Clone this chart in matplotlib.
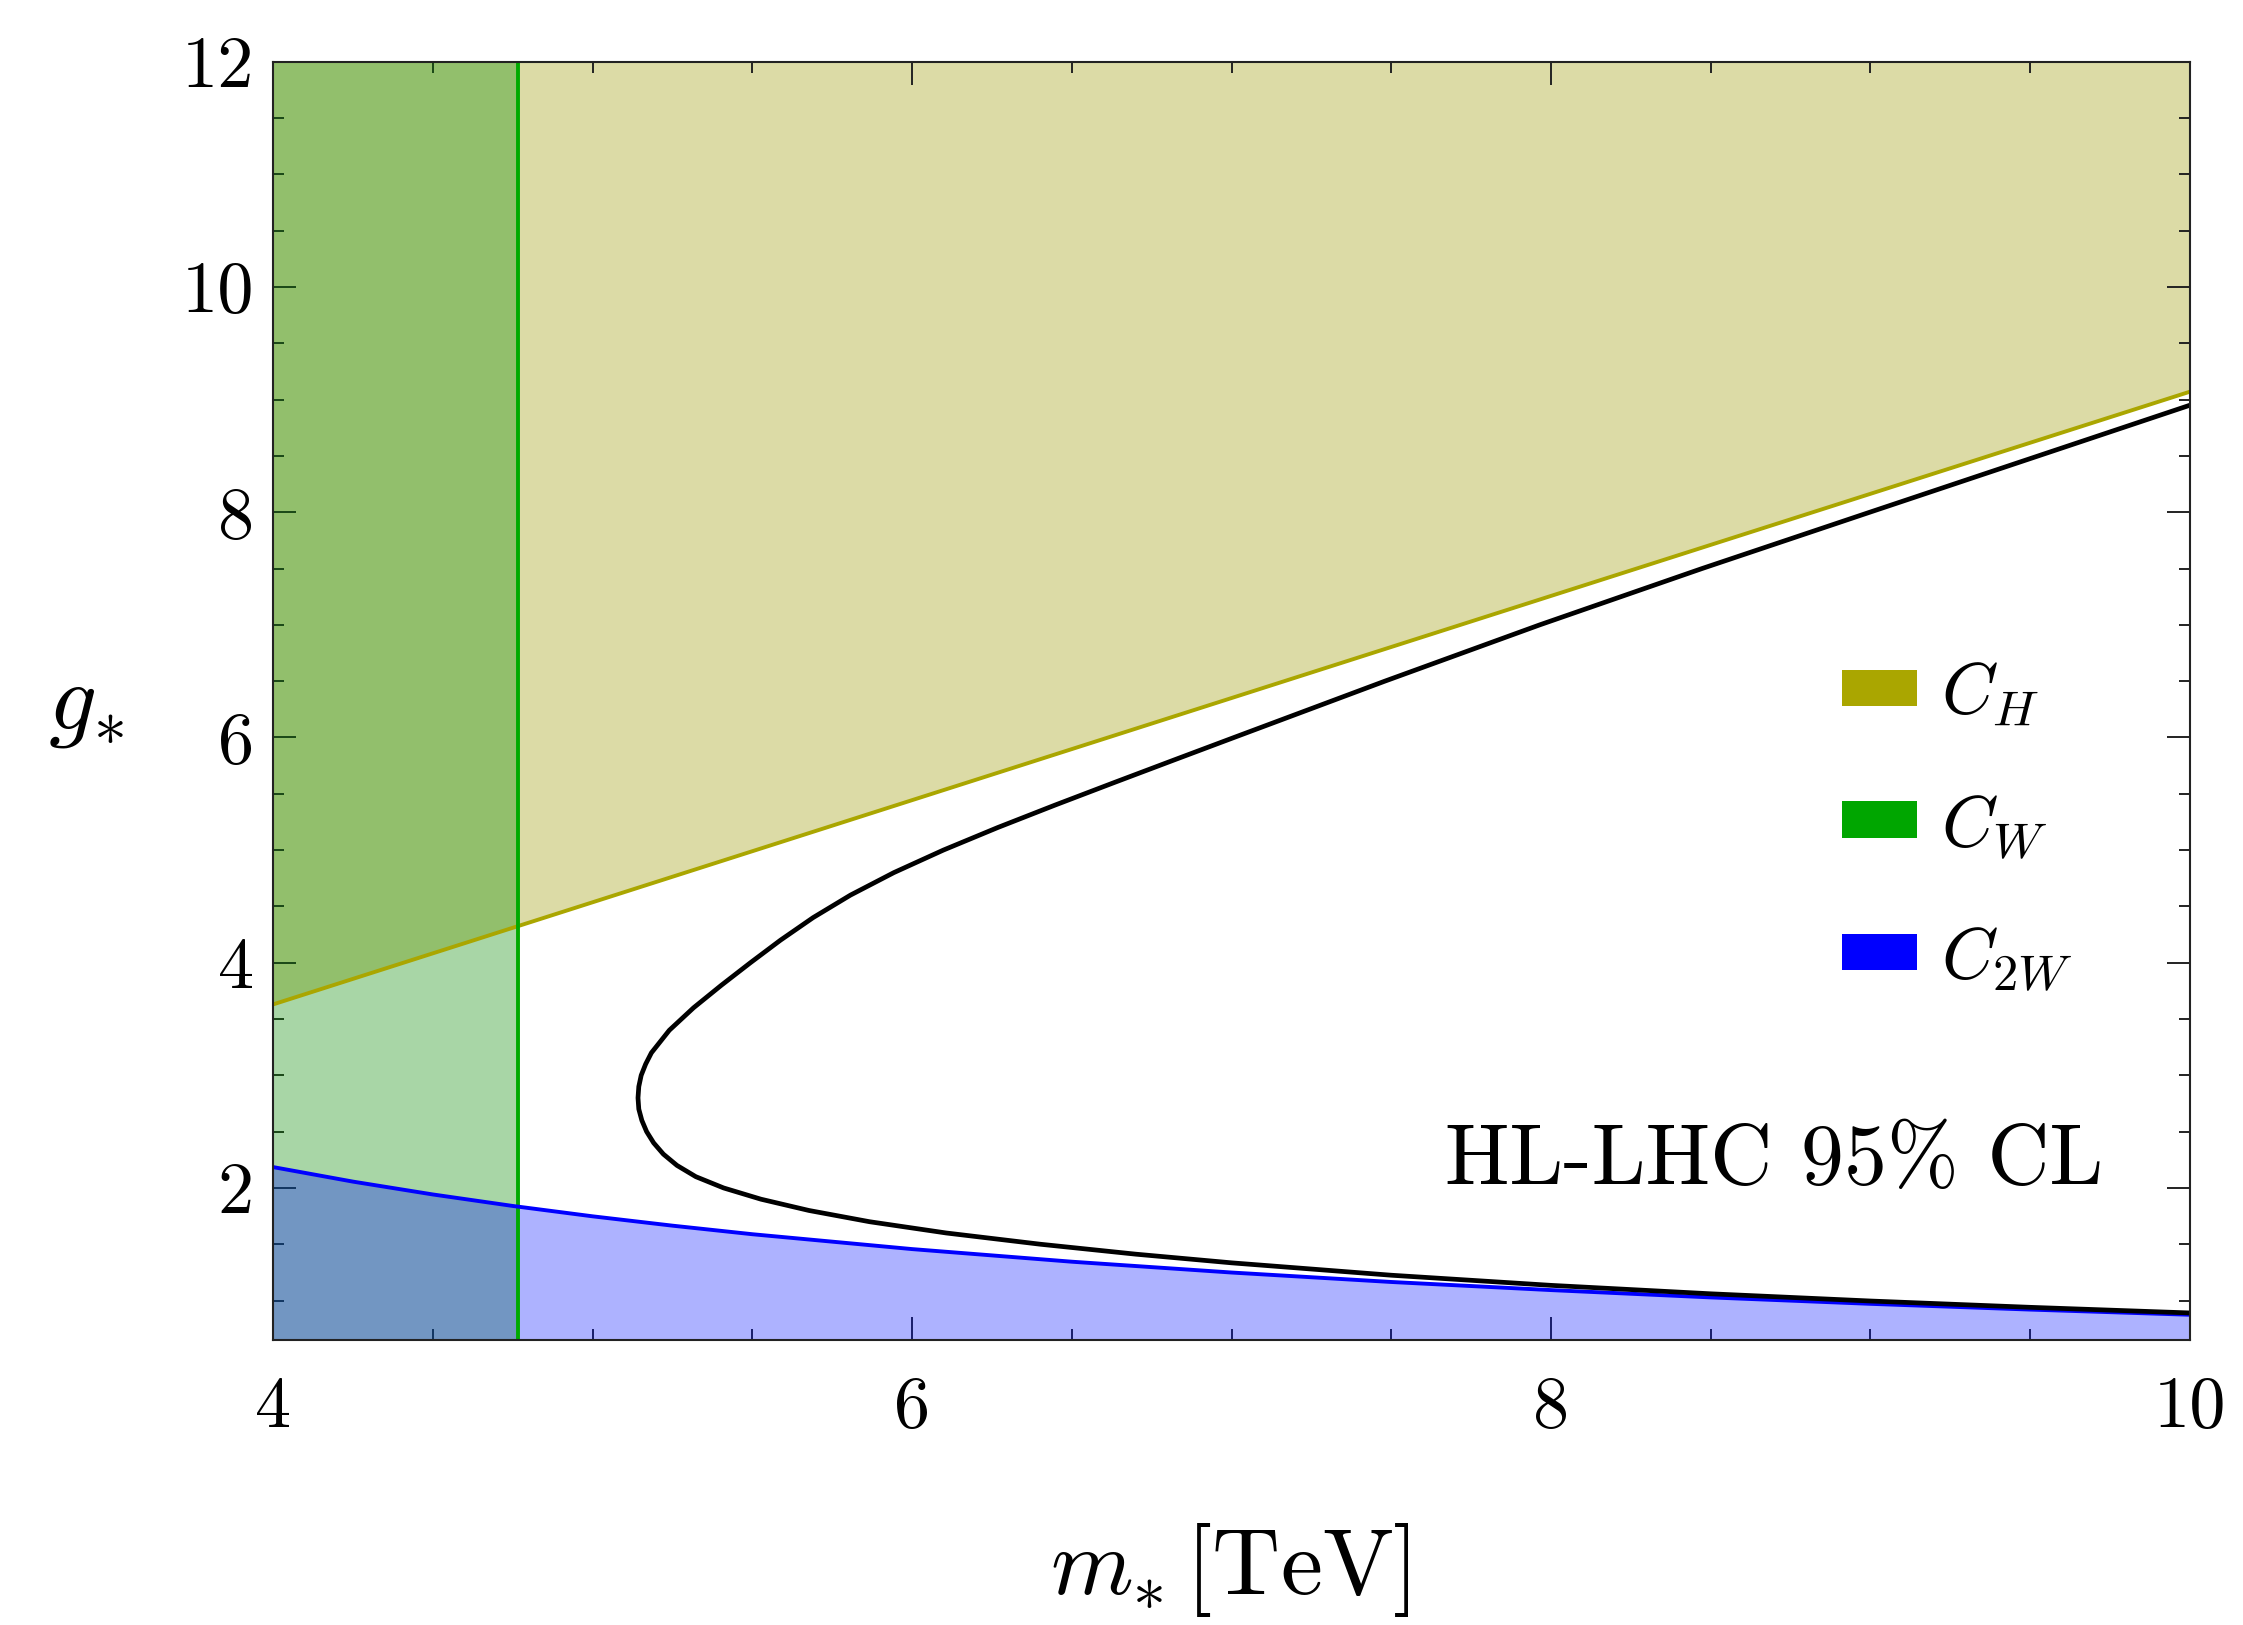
import matplotlib
matplotlib.use("Agg")
import matplotlib.pyplot as plt
from matplotlib.patches import Patch
from matplotlib.ticker import MultipleLocator, FixedLocator, FormatStrFormatter

# ---------------- data ----------------
x_min, x_max = 4.0, 10.0
y_min, y_max = 0.65, 12.0

# C_H bound (straight line)
ch_m = [4.0, 10.0]
ch_g = [3.63, 9.07]

# C_W bound (vertical line)
cw_m = 4.767

# C_2W bound
c2w_m = [4.0, 4.25, 4.5, 4.75, 5.0, 5.25, 5.5, 6.0, 6.5, 7.0, 7.5, 8.0,
         8.5, 9.0, 9.5, 10.0]
c2w_g = [2.185, 2.056, 1.942, 1.840, 1.748, 1.665, 1.589, 1.457, 1.345,
         1.249, 1.165, 1.093, 1.028, 0.971, 0.920, 0.874]

# combined (black) contour, traced from upper right, through the tip, to lower right
comb_m = [10.0, 8.998, 8.473, 7.965, 7.48, 7.008, 6.820, 6.633, 6.448, 6.268,
          6.098, 5.943, 5.807, 5.690, 5.588, 5.494, 5.403, 5.316, 5.240,
          5.184, 5.166, 5.152, 5.1445, 5.142, 5.1445, 5.154, 5.169, 5.191,
          5.2215, 5.264, 5.323, 5.410, 5.527, 5.677, 5.867, 6.107, 6.402,
          6.7, 7.0, 7.5, 8.0, 8.5, 9.0, 9.5, 10.0]
comb_g = [8.95, 8.0, 7.5, 7.0, 6.5, 6.0, 5.8, 5.6, 5.4, 5.2,
          5.0, 4.8, 4.6, 4.4, 4.2, 4.0, 3.8, 3.6, 3.4,
          3.2, 3.1, 3.0, 2.9, 2.8, 2.7, 2.6, 2.5, 2.4,
          2.3, 2.2, 2.1, 2.0, 1.9, 1.8, 1.7, 1.6, 1.5,
          1.412, 1.335, 1.225, 1.135, 1.060, 0.996, 0.940, 0.890]

legend_labels = [r"$C_H$", r"$C_W$", r"$C_{2W}$"]
annotation = "HL-LHC 95% CL"
xlabel = r"$m_{*}\,[\mathrm{TeV}]$"
ylabel = r"$g_{*}$"

# ---------------- style ----------------
plt.rcParams["font.family"] = "serif"
plt.rcParams["font.serif"] = ["cmr10", "DejaVu Serif"]
plt.rcParams["mathtext.fontset"] = "cm"
plt.rcParams["axes.formatter.use_mathtext"] = True

col_ch_line = "#aaa600"
col_cw_line = "#00aa00"
col_c2w_line = "#0000ff"

fig = plt.figure(figsize=(22.43, 16.25), dpi=100)
ax = fig.add_axes([0.1218, 0.1754, 0.8545, 0.7866])

# fills
ax.fill_between(ch_m, ch_g, y_max, facecolor="#9b9800", alpha=0.35,
                linewidth=0, zorder=1)
ax.fill_between([x_min, cw_m], [y_min, y_min], [y_max, y_max],
                facecolor="#088c00", alpha=0.35, linewidth=0, zorder=2)
ax.fill_between(c2w_m, 0, c2w_g, facecolor="#0010ff", alpha=0.32,
                linewidth=0, zorder=3)

# boundary lines
ax.plot(ch_m, ch_g, color=col_ch_line, lw=2.8, zorder=4,
        solid_capstyle="butt")
ax.axvline(cw_m, color=col_cw_line, lw=2.8, zorder=4)
ax.plot(c2w_m, c2w_g, color=col_c2w_line, lw=2.8, zorder=4,
        solid_joinstyle="round")
ax.plot(comb_m, comb_g, color="black", lw=3.4, zorder=5,
        solid_joinstyle="round")

ax.set_xlim(x_min, x_max)
ax.set_ylim(y_min, y_max)

ax.xaxis.set_major_locator(FixedLocator([4, 6, 8, 10]))
ax.xaxis.set_minor_locator(MultipleLocator(0.5))
ax.yaxis.set_major_locator(FixedLocator([2, 4, 6, 8, 10, 12]))
ax.yaxis.set_minor_locator(MultipleLocator(0.5))
ax.xaxis.set_major_formatter(FormatStrFormatter("%d"))
ax.yaxis.set_major_formatter(FormatStrFormatter("%d"))

ax.tick_params(which="both", direction="in", top=True, right=True,
               color="#222222", width=1.4)
ax.tick_params(which="major", length=16.5, labelsize=52)
ax.tick_params(which="minor", length=8)
ax.tick_params(axis="x", which="major", pad=26)
ax.tick_params(axis="y", which="major", pad=14)

for sp in ax.spines.values():
    sp.set_color("#222222")
    sp.set_linewidth(1.5)
    sp.set_zorder(6)

ax.set_xlabel(xlabel, fontsize=68, va="center")
ax.xaxis.set_label_coords(0.499, -0.180)
ax.set_ylabel(ylabel, fontsize=68, rotation=0, ha="center", va="center")
ax.yaxis.set_label_coords(-0.098, 0.494)

ax.text(9.73, 2.23, annotation, fontsize=62, ha="right", va="center",
        zorder=7)

handles = [Patch(facecolor=col_ch_line, edgecolor="none"),
           Patch(facecolor="#00a600", edgecolor="none"),
           Patch(facecolor="#0000ff", edgecolor="none")]
leg = ax.legend(handles, legend_labels, loc="center left",
                bbox_to_anchor=(0.8187, 0.4016), frameon=False,
                fontsize=52, handlelength=1.03, handleheight=0.4,
                handletextpad=0.33, labelspacing=0.9, borderpad=0,
                borderaxespad=0)

fig.savefig("out.png", dpi=100)
